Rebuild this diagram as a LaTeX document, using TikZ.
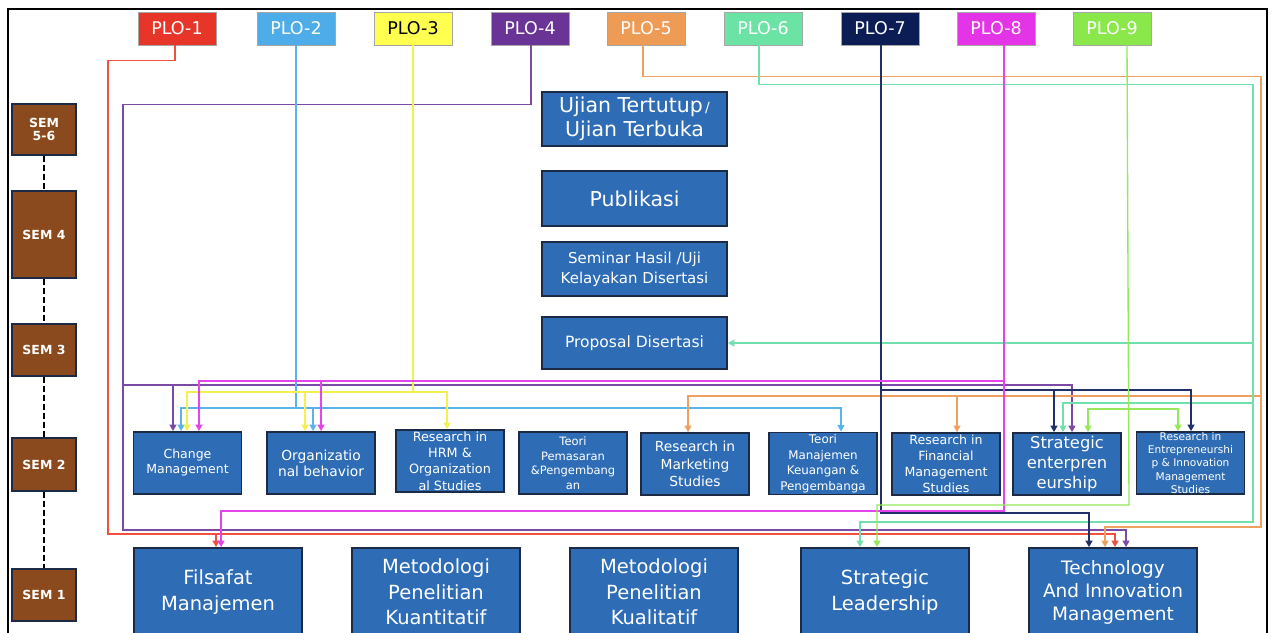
\documentclass[tikz,border=0pt]{standalone}
\usepackage{fontspec}
\setmainfont{DejaVu Sans}
\usetikzlibrary{arrows.meta}
\definecolor{boxblue}{HTML}{2E6DB6}
\definecolor{boxedge}{HTML}{1C2A46}
\definecolor{sembrown}{HTML}{8B4A1D}
\definecolor{pRed}{HTML}{E8352A}
\definecolor{pBlue}{HTML}{4EADE8}
\definecolor{pYel}{HTML}{FFFF50}
\definecolor{pPur}{HTML}{6A3396}
\definecolor{pOra}{HTML}{EE9B55}
\definecolor{pMint}{HTML}{6BE3A5}
\definecolor{pNavy}{HTML}{0C1D56}
\definecolor{pMag}{HTML}{E434E8}
\definecolor{pGrn}{HTML}{8BE84B}
\definecolor{cRed}{HTML}{F0503F}
\definecolor{cBlue}{HTML}{5BB3EC}
\definecolor{cYel}{HTML}{F4F050}
\definecolor{cPur}{HTML}{7A4AA4}
\definecolor{cOra}{HTML}{EEA060}
\definecolor{cMint}{HTML}{72E0AC}
\definecolor{cNavy}{HTML}{22306A}
\definecolor{cMag}{HTML}{E445EA}
\definecolor{cGrn}{HTML}{95E85A}
\tikzset{
  plo/.style={draw=gray!70, line width=0.7pt, minimum width=78, minimum height=33, inner sep=0pt, text=white, font=\fontsize{17.5}{20}\selectfont},
  sembox/.style={draw=boxedge, fill=sembrown, line width=1.8pt, minimum width=64, inner sep=0pt, text=white, align=center, font=\bfseries\fontsize{12.5}{14}\selectfont},
  midbox/.style={draw=boxedge, fill=boxblue, line width=1.8pt, minimum width=185, inner sep=0pt, text=white, align=center},
  modbox/.style={draw=boxedge, fill=boxblue, line width=1.8pt, minimum width=108, minimum height=62, inner sep=0pt, text=white, align=center},
  bigbox/.style={draw=boxedge, fill=boxblue, line width=1.8pt, minimum width=168, minimum height=88, inner sep=0pt, text=white, align=center, font=\fontsize{19.5}{25.5}\selectfont},
  conn/.style={line width=1.35pt, -{Triangle[length=6.5pt,width=7pt]}},
  link/.style={line width=1.35pt},
  semdash/.style={line width=2.8pt, dash pattern=on 6pt off 3pt, black},
}
\begin{document}
\begin{tikzpicture}[x=1pt,y=-1pt]
\useasboundingbox (0,0) rectangle (1273,632);
\clip (0,0) rectangle (1273,632);
\fill[white] (0,0) rectangle (1273,632);
\draw[line width=2pt] (8,650) -- (8,9) -- (1267,9) -- (1267,650);

% PLO boxes
\node[plo, fill=pRed] (plo1) at (177,28.5) {PLO-1};
\node[plo, fill=pBlue] (plo2) at (296,28.5) {PLO-2};
\node[plo, fill=pYel, text=black] (plo3) at (413,28.5) {PLO-3};
\node[plo, fill=pPur] (plo4) at (530,28.5) {PLO-4};
\node[plo, fill=pOra] (plo5) at (646,28.5) {PLO-5};
\node[plo, fill=pMint] (plo6) at (763,28.5) {PLO-6};
\node[plo, fill=pNavy] (plo7) at (880,28.5) {PLO-7};
\node[plo, fill=pMag] (plo8) at (996,28.5) {PLO-8};
\node[plo, fill=pGrn] (plo9) at (1112,28.5) {PLO-9};

% SEM boxes
\node[sembox, minimum height=51] (sem56) at (44,129.5) {SEM\\[-1pt]5-6};
\node[sembox, minimum height=87] (sem4) at (44,234.5) {SEM 4};
\node[sembox, minimum height=52] (sem3) at (44,350) {SEM 3};
\node[sembox, minimum height=53] (sem2) at (44,464.5) {SEM 2};
\node[sembox, minimum height=52] (sem1) at (44,595) {SEM 1};
\draw[semdash] (sem56.south) -- (sem4.north);
\draw[semdash] (sem4.south) -- (sem3.north);
\draw[semdash] (sem3.south) -- (sem2.north);
\draw[semdash] (sem2.south) -- (sem1.north);

% middle column
\node[midbox, minimum height=54, font=\fontsize{20.5}{24}\selectfont] (ujian) at (634.5,119) {Ujian Tertutup{\fontsize{14}{14}\selectfont\,/}\\Ujian Terbuka};
\node[midbox, minimum height=55, font=\fontsize{20.5}{24}\selectfont] (publikasi) at (634.5,198.5) {Publikasi};
\node[midbox, minimum height=54, font=\fontsize{15}{20}\selectfont] (seminar) at (634.5,269) {Seminar Hasil /Uji\\Kelayakan Disertasi};
\node[midbox, minimum height=52, font=\fontsize{15.5}{18}\selectfont] (proposal) at (634.5,343) {Proposal Disertasi};

% SEM 2 modules
\node[modbox, font=\fontsize{12.5}{15}\selectfont] (change) at (187.5,463) {Change\\Management};
\node[modbox, font=\fontsize{13.8}{16}\selectfont] (org) at (321,463) {Organizatio\\nal behavior};
\node[modbox, font=\fontsize{12.8}{16.2}\selectfont] (hrm) at (450,461) {Research in\\HRM \&\\Organization\\al Studies};
\node[modbox, font=\fontsize{11.5}{14.5}\selectfont] (pemasaran) at (573,463) {Teori\\Pemasaran\\\&Pengembang\\an};
\node[modbox, font=\fontsize{13.8}{17.5}\selectfont] (marketing) at (695,464) {Research in\\Marketing\\Studies};
\node[modbox, font=\fontsize{11.9}{15.5}\selectfont] (keuangan) at (823,463.5) {Teori\\Manajemen\\Keuangan \&\\Pengembanga};
\node[modbox, font=\fontsize{12.6}{16}\selectfont] (financial) at (946,464) {Research in\\Financial\\Management\\Studies};
\node[modbox, font=\fontsize{16.3}{20}\selectfont] (stratent) at (1067,464) {Strategic\\enterpren\\eurship};
\node[modbox, font=\fontsize{10.6}{13.3}\selectfont] (entre) at (1190.5,463) {Research in\\Entrepreneurshi\\p \& Innovation\\Management\\Studies};

% SEM 1 modules
\node[bigbox] (fils) at (218,592) {Filsafat\\Manajemen};
\node[bigbox] (kuant) at (436,592) {Metodologi\\Penelitian\\Kuantitatif};
\node[bigbox] (kual) at (654,592) {Metodologi\\Penelitian\\Kualitatif};
\node[bigbox] (lead) at (885,592) {Strategic\\Leadership};
\node[bigbox, font=\fontsize{18.5}{23}\selectfont] (tech) at (1113,592) {Technology\\And Innovation\\Management};

% junction coordinates
\coordinate (jB) at (296,408);
\coordinate (jY) at (413,392);
\coordinate (jP) at (123,385);
\coordinate (jO) at (1261,396);
\coordinate (jO2) at (957,396);
\coordinate (jM1) at (1253,343);
\coordinate (jM2) at (1253,403);
\coordinate (jN) at (881,390);
\coordinate (jG8) at (1004,381);
\coordinate (jG8b) at (321,381);
\coordinate (jG9) at (1129,409);

% PLO-1 red
\draw[conn, cRed] ([xshift=-2pt]plo1.south) -- ++(0,15) -| (108,534) -| ([xshift=2pt]tech.north);
\draw[conn, cRed] (216,534) -- ([xshift=-2pt]fils.north);
% PLO-4 purple
\draw[conn, cPur] ([xshift=1pt]plo4.south) -- ++(0,59) -| (123,530) -| ([xshift=13pt]tech.north);
\draw[conn, cPur] (jP) -| ([xshift=-14.5pt]change.north);
\draw[conn, cPur] (jP) -| ([xshift=5pt]stratent.north);
% PLO-2 blue
\draw[link, cBlue] (plo2.south) -- (jB);
\draw[conn, cBlue] (jB) -| ([xshift=-6.5pt]change.north);
\draw[conn, cBlue] (jB) -| ([xshift=-8pt]org.north);
\draw[conn, cBlue] (jB) -| ([xshift=18pt]keuangan.north);
% PLO-3 yellow
\draw[link, cYel] (plo3.south) -- (jY);
\draw[conn, cYel] (jY) -| ([xshift=-0.5pt]change.north);
\draw[conn, cYel] (jY) -| ([xshift=-16pt]org.north);
\draw[conn, cYel] (jY) -| ([xshift=-3pt]hrm.north);
% PLO-5 orange
\draw[conn, cOra] ([xshift=-3pt]plo5.south) -- ++(0,31) -| (1261,527) -| ([xshift=-8pt]tech.north);
\draw[conn, cOra] (jO) -| ([xshift=-7pt]marketing.north);
\draw[conn, cOra] (jO2) -- ([xshift=11pt]financial.north);
% PLO-6 mint
\draw[conn, cMint] ([xshift=-4pt]plo6.south) -- ++(0,39) -| (1253,522) -| ([xshift=-25pt]lead.north);
\draw[conn, cMint] (jM1) -- (proposal.east);
\draw[conn, cMint] (jM2) -| ([xshift=-4pt]stratent.north);
% PLO-7 navy
\draw[conn, cNavy] ([xshift=1pt]plo7.south) -- (881,513) -| ([xshift=-24pt]tech.north);
\draw[conn, cNavy] (jN) -| ([xshift=-13pt]stratent.north);
\draw[conn, cNavy] (jN) -| ([xshift=0.5pt]entre.north);
% PLO-8 magenta
\draw[conn, cMag] ([xshift=8pt]plo8.south) -- (1004,511) -| ([xshift=3pt]fils.north);
\draw[conn, cMag] (jG8) -| ([xshift=11.5pt]change.north);
\draw[conn, cMag] (jG8b) -- (org.north);
% PLO-9 green
\draw[conn, cGrn] ([xshift=15pt]plo9.south) -- (1129,505) -| ([xshift=-8pt]lead.north);
\draw[conn, cGrn] (jG9) -| ([xshift=21pt]stratent.north);
\draw[conn, cGrn] (jG9) -| ([xshift=-12.5pt]entre.north);
\end{tikzpicture}
\end{document}
